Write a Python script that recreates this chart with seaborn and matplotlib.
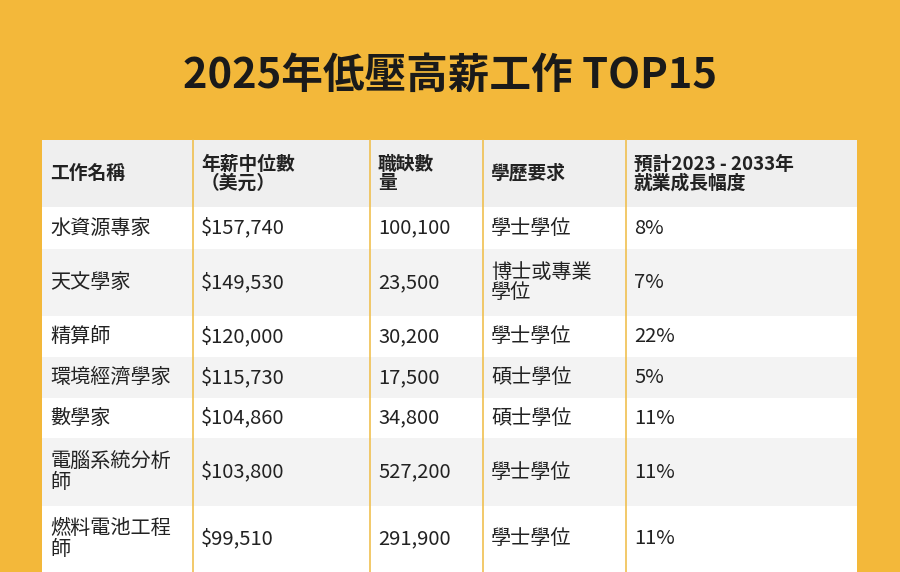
import matplotlib
matplotlib.use("Agg")
import matplotlib.pyplot as plt
from matplotlib import font_manager as fm
import seaborn as sns

sns.set_theme(style="white")

# find an installed CJK font by name
cjk_names = sorted({f.name for f in fm.fontManager.ttflist if "CJK" in f.name})
pick = next((n for n in cjk_names if "TC" in n), cjk_names[0] if cjk_names else "DejaVu Sans")
plt.rcParams["font.family"] = "sans-serif"
plt.rcParams["font.sans-serif"] = [pick, "DejaVu Sans"]

TITLE = "2025年低壓高薪工作 TOP15"
headers = ["工作名稱", "年薪中位數\n（美元）", "職缺數\n量", "學歷要求", "預計2023 - 2033年\n就業成長幅度"]
jobs = ["水資源專家", "天文學家", "精算師", "環境經濟學家", "數學家", "電腦系統分析\n師", "燃料電池工程\n師"]
salaries = ["$157,740", "$149,530", "$120,000", "$115,730", "$104,860", "$103,800", "$99,510"]
openings = ["100,100", "23,500", "30,200", "17,500", "34,800", "527,200", "291,900"]
degrees = ["學士學位", "博士或專業\n學位", "學士學位", "碩士學位", "碩士學位", "學士學位", "學士學位"]
growth = ["8%", "7%", "22%", "5%", "11%", "11%", "11%"]

BG = "#F3B83A"
row_edges = [140, 207, 249, 316, 357, 398, 438, 506, 572]
col_edges = [42, 193, 370, 483, 626, 857]

fig = plt.figure(figsize=(9, 5.72), dpi=100, facecolor=BG)
ax = fig.add_axes([0, 0, 1, 1])
ax.set_xlim(0, 900)
ax.set_ylim(572, 0)
ax.axis("off")

ax.text(450, 76, TITLE, ha="center", va="center", fontsize=30,
        fontweight="bold", color="#1a1a1a")

rows = [headers] + [list(r) for r in zip(jobs, salaries, openings, degrees, growth)]
fills = ["#EFEFEF"] + ["#FFFFFF" if i % 2 == 0 else "#F3F3F3" for i in range(len(jobs))]

for i, cells in enumerate(rows):
    top, bot = row_edges[i], row_edges[i + 1]
    ax.fill_between([col_edges[0], col_edges[-1]], top, bot, color=fills[i], lw=0)
    for j, txt in enumerate(cells):
        ax.text(col_edges[j] + 8, (top + bot) / 2, txt, ha="left", va="center",
                fontsize=13.5 if i == 0 else 14.5,
                fontweight="bold" if i == 0 else "normal",
                color="#222222", linespacing=1.0)

for x in col_edges[1:-1]:
    ax.plot([x, x], [row_edges[0], row_edges[-1]], color="#F0C050", lw=1.2)

fig.savefig("out.png", dpi=100, facecolor=BG)
